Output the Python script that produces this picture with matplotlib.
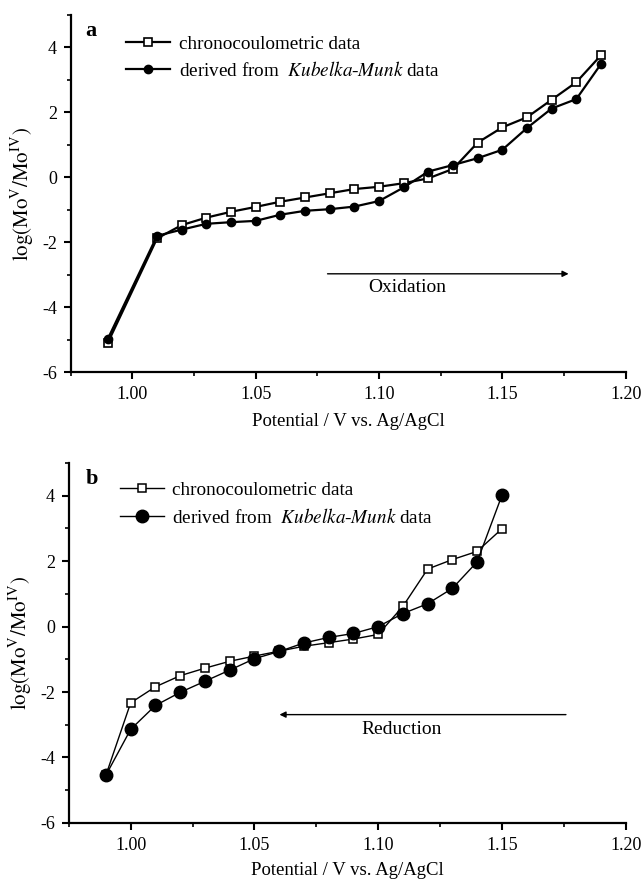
import numpy as np
import matplotlib
matplotlib.use("Agg")
from matplotlib import pyplot as plt
from matplotlib.ticker import MultipleLocator, FormatStrFormatter

plt.rcParams['font.family'] = 'Liberation Serif'
plt.rcParams['mathtext.fontset'] = 'stix'

# panel a - oxidation
pot_a = [0.99, 1.01, 1.02, 1.03, 1.04, 1.05, 1.06, 1.07, 1.08, 1.09, 1.10,
         1.11, 1.12, 1.13, 1.14, 1.15, 1.16, 1.17, 1.18, 1.19]
chrono_a = [-5.10, -1.88, -1.47, -1.24, -1.06, -0.91, -0.75, -0.62, -0.49, -0.36, -0.29,
            -0.18, -0.03, 0.26, 1.07, 1.54, 1.85, 2.39, 2.93, 3.76]
km_a = [-4.98, -1.80, -1.61, -1.43, -1.38, -1.34, -1.15, -1.03, -0.98, -0.90, -0.73,
        -0.31, 0.18, 0.38, 0.59, 0.85, 1.52, 2.12, 2.41, 3.49]

# panel b - reduction
pot_b = [0.99, 1.00, 1.01, 1.02, 1.03, 1.04, 1.05, 1.06, 1.07, 1.08, 1.09,
         1.10, 1.11, 1.12, 1.13, 1.14, 1.15]
chrono_b = [-4.54, -2.33, -1.84, -1.50, -1.27, -1.06, -0.90, -0.75, -0.60, -0.49, -0.38,
            -0.24, 0.62, 1.76, 2.05, 2.30, 2.99]
km_b = [-4.54, -3.14, -2.41, -2.01, -1.67, -1.33, -0.98, -0.76, -0.50, -0.33, -0.21,
        0.00, 0.40, 0.70, 1.17, 1.98, 4.01]

ylab = r'$\mathrm{log(Mo^{V}/Mo^{IV})}$'
xlab = 'Potential / V vs. Ag/AgCl'
lab1 = 'chronocoulometric data'
lab2 = r'derived from  $\mathit{Kubelka}$-$\mathit{Munk}$ data'

fig = plt.figure(figsize=(6.43, 8.82), dpi=100)
ax1 = fig.add_axes([0.110, 0.578, 0.863, 0.405])
ax2 = fig.add_axes([0.107, 0.067, 0.866, 0.408])


def style_axes(ax):
    ax.set_xlim(0.975, 1.20)
    ax.set_ylim(-6, 5)
    ax.spines['top'].set_visible(False)
    ax.spines['right'].set_visible(False)
    ax.spines['left'].set_linewidth(1.6)
    ax.spines['bottom'].set_linewidth(1.6)
    ax.xaxis.set_major_locator(MultipleLocator(0.05))
    ax.xaxis.set_minor_locator(MultipleLocator(0.025))
    ax.xaxis.set_major_formatter(FormatStrFormatter('%.2f'))
    ax.yaxis.set_major_locator(MultipleLocator(2))
    ax.yaxis.set_minor_locator(MultipleLocator(1))
    ax.yaxis.set_major_formatter(FormatStrFormatter('%d'))
    ax.tick_params(which='major', direction='out', length=5, width=1.5, labelsize=13, pad=5)
    ax.tick_params(which='minor', direction='out', length=3, width=1.2)
    ax.set_ylabel(ylab, fontsize=15, labelpad=4)


# (a)
ax1.plot(pot_a, chrono_a, '-s', color='black', lw=1.6, ms=6, mfc='white', mew=1.2, label=lab1)
ax1.plot(pot_a, km_a, '-o', color='black', lw=1.6, ms=6, label=lab2)
style_axes(ax1)
ax1.set_xlabel(xlab, fontsize=13.5, labelpad=7)
ax1.text(0.027, 0.955, 'a', transform=ax1.transAxes, fontsize=16, fontweight='bold', va='center')
ax1.legend(loc='upper left', bbox_to_anchor=(0.085, 0.965), frameon=False, fontsize=13.8,
           handlelength=2.3, handletextpad=0.5, labelspacing=0.45, borderaxespad=0)
ax1.annotate('', xy=(1.178, -2.97), xytext=(1.078, -2.97),
             arrowprops=dict(arrowstyle='-|>', color='black', lw=1.0, mutation_scale=9))
ax1.text(1.1115, -3.4, 'Oxidation', fontsize=14, ha='center', va='center')

# (b)
ax2.plot(pot_b, chrono_b, '-s', color='black', lw=1.0, ms=6, mfc='white', mew=1.1, label=lab1)
ax2.plot(pot_b, km_b, '-o', color='black', lw=1.0, ms=9, label=lab2)
style_axes(ax2)
ax2.set_xlabel(xlab, fontsize=13.5, labelpad=6)
ax2.text(0.03, 0.955, 'b', transform=ax2.transAxes, fontsize=16, fontweight='bold', va='center')
ax2.legend(loc='upper left', bbox_to_anchor=(0.078, 0.97), frameon=False, fontsize=13.8,
           handlelength=2.3, handletextpad=0.4, labelspacing=0.45, borderaxespad=0)
ax2.annotate('', xy=(1.059, -2.69), xytext=(1.177, -2.69),
             arrowprops=dict(arrowstyle='-|>', color='black', lw=1.0, mutation_scale=9))
ax2.text(1.1095, -3.13, 'Reduction', fontsize=14, ha='center', va='center')

fig.savefig('out.png', dpi=100)
